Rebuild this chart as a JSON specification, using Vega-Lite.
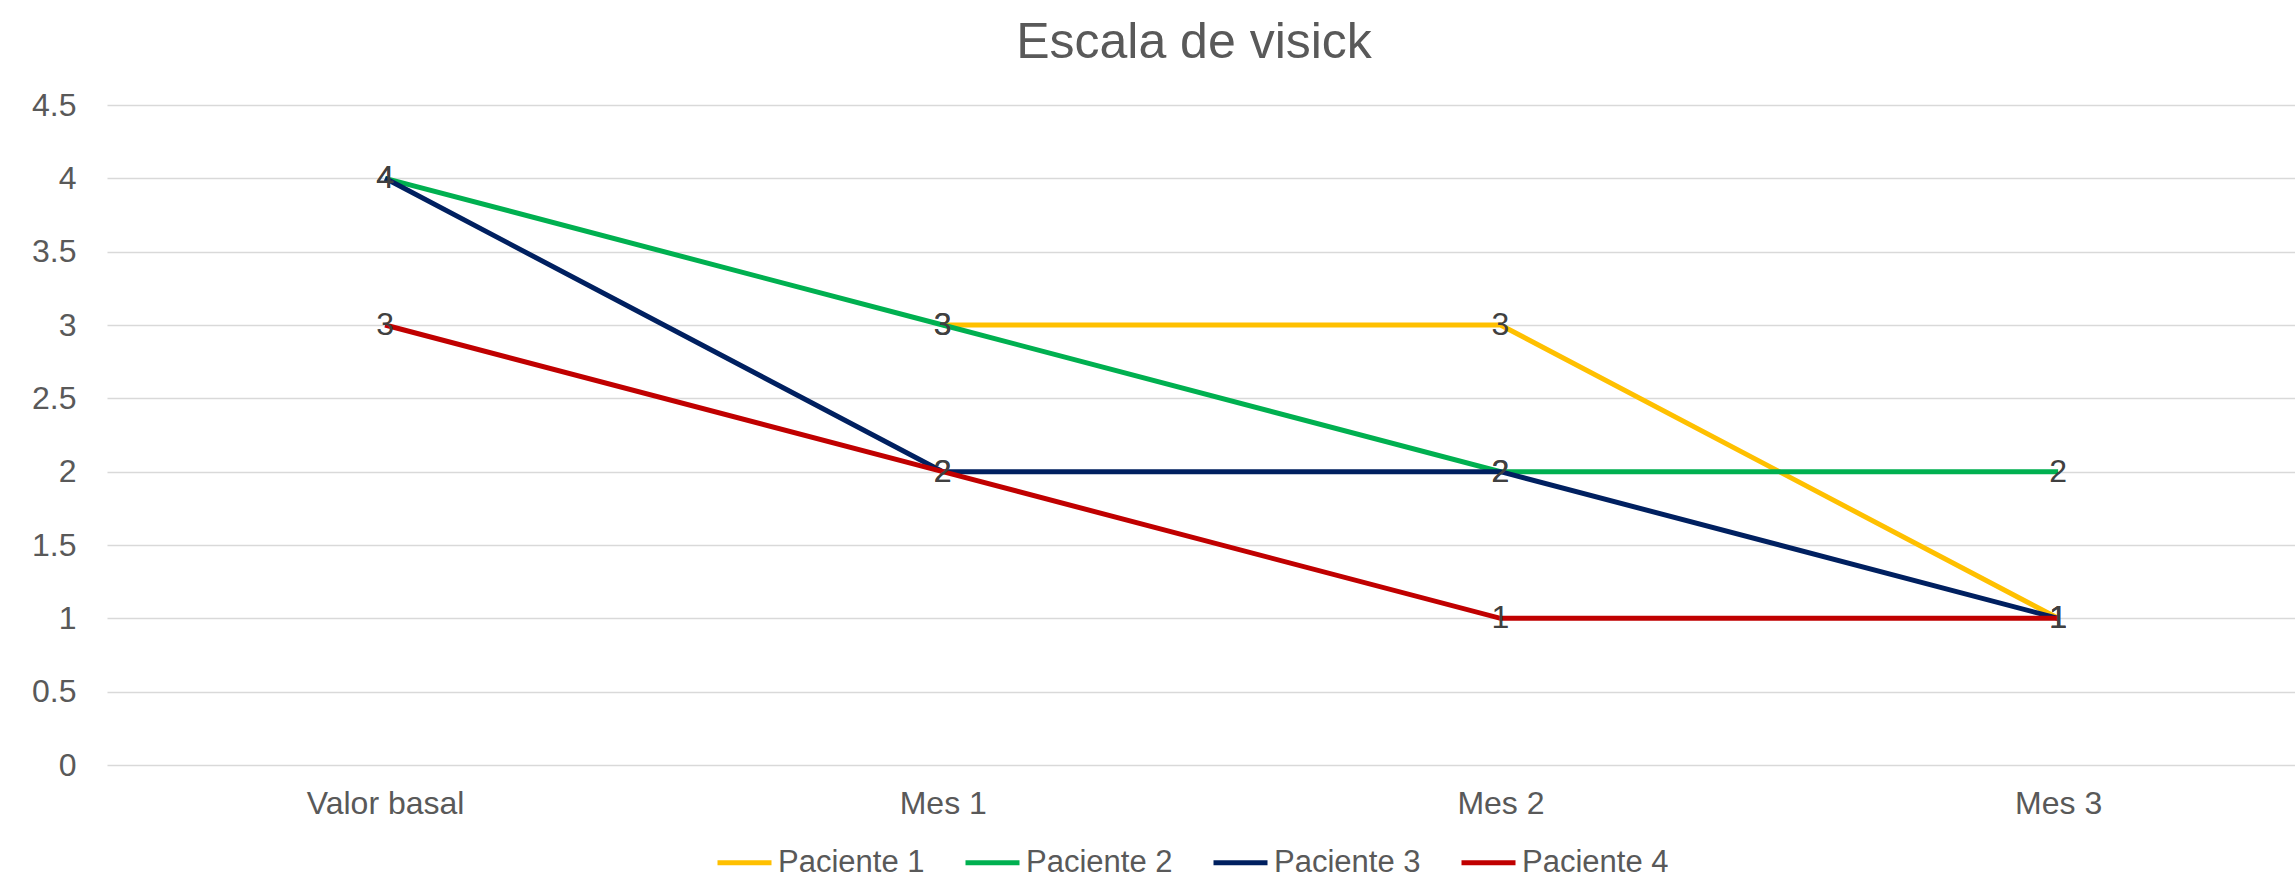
{
  "$schema": "https://vega.github.io/schema/vega-lite/v6.json",
  "width": 2188,
  "height": 660,
  "autosize": {"type": "none"},
  "padding": {"left": 107, "top": 105, "right": 0, "bottom": 111},
  "background": "white",
  "title": {
    "text": "Escala de visick",
    "font": "Liberation Sans",
    "fontSize": 50,
    "fontWeight": "normal",
    "color": "#595959",
    "anchor": "middle",
    "offset": 21,
    "dx": -7
  },
  "config": {
    "view": {"stroke": null},
    "font": "Liberation Sans"
  },
  "data": {
    "values": [
      {"periodo": "Mes 1", "serie": "Paciente 1", "valor": 3},
      {"periodo": "Mes 2", "serie": "Paciente 1", "valor": 3},
      {"periodo": "Mes 3", "serie": "Paciente 1", "valor": 1},
      {"periodo": "Valor basal", "serie": "Paciente 2", "valor": 4},
      {"periodo": "Mes 1", "serie": "Paciente 2", "valor": 3},
      {"periodo": "Mes 2", "serie": "Paciente 2", "valor": 2},
      {"periodo": "Mes 3", "serie": "Paciente 2", "valor": 2},
      {"periodo": "Valor basal", "serie": "Paciente 3", "valor": 4},
      {"periodo": "Mes 1", "serie": "Paciente 3", "valor": 2},
      {"periodo": "Mes 2", "serie": "Paciente 3", "valor": 2},
      {"periodo": "Mes 3", "serie": "Paciente 3", "valor": 1},
      {"periodo": "Valor basal", "serie": "Paciente 4", "valor": 3},
      {"periodo": "Mes 1", "serie": "Paciente 4", "valor": 2},
      {"periodo": "Mes 2", "serie": "Paciente 4", "valor": 1},
      {"periodo": "Mes 3", "serie": "Paciente 4", "valor": 1}
    ]
  },
  "encoding": {
    "x": {
      "field": "periodo",
      "type": "ordinal",
      "sort": ["Valor basal", "Mes 1", "Mes 2", "Mes 3"],
      "scale": {"type": "point", "padding": 0.4617, "align": 0.54},
      "axis": {
        "title": null,
        "domain": false,
        "ticks": false,
        "grid": false,
        "labelAngle": 0,
        "labelFontSize": 32,
        "labelColor": "#595959",
        "labelPadding": 23
      }
    },
    "y": {
      "field": "valor",
      "type": "quantitative",
      "scale": {"domain": [0, 4.5], "nice": false, "zero": true},
      "axis": {
        "title": null,
        "domain": false,
        "ticks": false,
        "values": [0, 0.5, 1, 1.5, 2, 2.5, 3, 3.5, 4, 4.5],
        "format": ".1~f",
        "grid": true,
        "gridColor": "#d9d9d9",
        "gridWidth": 1.5,
        "labelFontSize": 32,
        "labelColor": "#595959",
        "labelPadding": 31
      }
    }
  },
  "layer": [
    {
      "mark": {"type": "line", "strokeWidth": 5},
      "encoding": {
        "color": {
          "field": "serie",
          "type": "nominal",
          "scale": {
            "domain": ["Paciente 1", "Paciente 2", "Paciente 3", "Paciente 4"],
            "range": ["#FFC000", "#00B050", "#002060", "#C00000"]
          },
          "legend": {
            "title": null,
            "orient": "none",
            "direction": "horizontal",
            "columns": 4,
            "legendX": 608,
            "legendY": 728,
            "symbolType": "stroke",
            "symbolSize": 2916,
            "symbolStrokeWidth": 5,
            "labelFontSize": 31,
            "labelColor": "#595959",
            "labelOffset": 4,
            "columnPadding": 30,
            "padding": 0
          }
        }
      }
    },
    {
      "mark": {
        "type": "text",
        "fontSize": 32,
        "color": "#404040",
        "baseline": "middle",
        "align": "center"
      },
      "encoding": {
        "text": {"field": "valor", "type": "quantitative"},
        "detail": {"field": "serie"}
      }
    }
  ]
}
